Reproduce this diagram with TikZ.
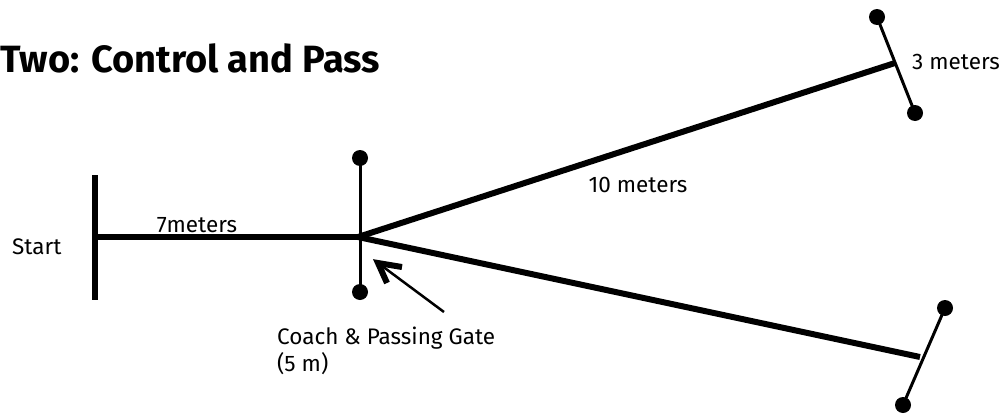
\documentclass[tikz,border=0pt]{standalone}
\usepackage{fontspec}
\setmainfont{Fira Sans}
\begin{document}
\begin{tikzpicture}[x=1pt,y=-1pt,
  thickline/.style={line width=6pt},
  thinline/.style={line width=3pt},
  cone/.style={circle,fill=black,inner sep=0pt,minimum size=16pt},
  lbl/.style={font=\fontsize{22.5}{27}\selectfont,inner sep=0pt},
  line cap=butt]
\useasboundingbox (0,0) rectangle (999,415);
\node[anchor=west,inner sep=0pt,font=\fontsize{38}{44}\selectfont\bfseries] (title) at (0,58) {Two: Control and Pass};
% start
\coordinate (s1) at (95,175);
\coordinate (s2) at (95,300);
\draw[thickline] (s1) -- (s2);
\coordinate (sm) at (92,237);
\coordinate (g) at (358,237);
\draw[thickline] (sm) -- (g);
\node[lbl,anchor=west] (start) at (12,247) {Start};
\node[lbl,anchor=base] (seven) at (197,232) {7meters};
% coach gate
\node[cone] (c1) at (360,158) {};
\node[cone] (c2) at (360,292) {};
\draw[thinline] (c1.center) -- (c2.center);
% far gates
\coordinate (t) at (895,63);
\coordinate (b) at (920,357);
\draw[thickline] (g) -- (t);
\draw[thickline] (g) -- (b);
\node[cone] (t1) at (877,17) {};
\node[cone] (t2) at (915,113) {};
\draw[thinline] (t1.center) -- (t2.center);
\node[cone] (b1) at (945,308) {};
\node[cone] (b2) at (903,405) {};
\draw[thinline] (b1.center) -- (b2.center);
\node[lbl,anchor=center] (ten) at (638,185) {10 meters};
\node[lbl,anchor=west] (three) at (912,62) {3 meters};
% arrow
\coordinate (atip) at (378,263);
\coordinate (atail) at (444,312);
\draw[line width=2.5pt] (atail) -- (atip);
\draw[line width=6pt,line join=miter] (402,267) -- (atip) -- (387,283);
\node[lbl,anchor=west,align=left] (coach) at (277,351) {Coach \& Passing Gate\\(5 m)};
\end{tikzpicture}
\end{document}
